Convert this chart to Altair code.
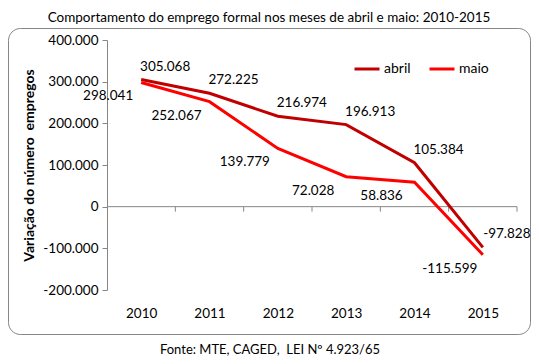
import altair as alt
import pandas as pd

years = ["2010", "2011", "2012", "2013", "2014", "2015"]
abril = [305068, 272225, 216974, 196913, 105384, -97828]
maio = [298041, 252067, 139779, 72028, 58836, -115599]
series = ["abril", "maio"]
colors = ["#C00000", "#FF0000"]
y_ticks = [-200000, -100000, 0, 100000, 200000, 300000, 400000]

title_text = "Comportamento do emprego formal nos meses de abril e maio: 2010-2015"
source_text = "Fonte: MTE, CAGED,\u00a0 LEI Nº 4.923/65"
y_title = "Variação do número\u00a0 empregos"

FONT = "Lato"
GRAY = "#868686"

rows = []
for i, (yr, a, m) in enumerate(zip(years, abril, maio)):
    rows.append({"pos": i + 0.5, "ano": yr, "serie": "abril", "valor": a})
    rows.append({"pos": i + 0.5, "ano": yr, "serie": "maio", "valor": m})
df = pd.DataFrame(rows)

n = len(years)
year_arr = "[" + ",".join("'%s'" % y for y in years) + "]"


def pt_fmt(field):
    return ("replace(replace(format(%s, ','), regexp(',', 'g'), '.'), '\u2212', '-')" % field)


x_scale = alt.Scale(domain=[0, n], nice=False, zero=False)
y_scale = alt.Scale(domain=[y_ticks[0], y_ticks[-1]], nice=False, zero=False)

base = alt.Chart(df)

lines = base.mark_line(strokeWidth=3).encode(
    x=alt.X("pos:Q", scale=x_scale,
            axis=alt.Axis(values=[i + 0.5 for i in range(n)],
                          labelExpr=year_arr + "[floor(datum.value)]",
                          ticks=False, domain=False, grid=False, title=None,
                          labelPadding=16, labelFontSize=13.5, labelFont=FONT,
                          labelColor="#000000")),
    y=alt.Y("valor:Q", scale=y_scale,
            axis=alt.Axis(values=y_ticks, labelExpr=pt_fmt("datum.value"), grid=False,
                          domainColor=GRAY, tickColor=GRAY, tickSize=5,
                          labelFontSize=13.5, labelFont=FONT, labelColor="#000000",
                          labelPadding=4,
                          title=y_title, titleFont=FONT, titleFontSize=14,
                          titleFontWeight="bold", titleColor="#000000",
                          titlePadding=6)),
    color=alt.Color("serie:N", scale=alt.Scale(domain=series, range=colors),
                    legend=alt.Legend(title=None, orient="none", legendX=246, legendY=15,
                                      direction="horizontal", symbolType="stroke",
                                      symbolStrokeWidth=3, symbolSize=625,
                                      labelFontSize=14, labelFont=FONT,
                                      labelColor="#000000", labelOffset=3,
                                      columnPadding=12)),
)

labels_abril = base.transform_filter(alt.datum.serie == "abril").transform_calculate(
    lab=pt_fmt("datum.valor")
).mark_text(dx=24, dy=-13, fontSize=13.5, font=FONT, color="#000000").encode(
    x=alt.X("pos:Q", scale=x_scale), y=alt.Y("valor:Q", scale=y_scale), text="lab:N")

labels_maio = base.transform_filter(alt.datum.serie == "maio").transform_calculate(
    lab=pt_fmt("datum.valor")
).mark_text(dx=-33, dy=14, fontSize=13.5, font=FONT, color="#000000").encode(
    x=alt.X("pos:Q", scale=x_scale), y=alt.Y("valor:Q", scale=y_scale), text="lab:N")

zero_line = alt.Chart(pd.DataFrame({"a": [0]})).mark_rule(color=GRAY, strokeWidth=1).encode(
    x=alt.datum(0, scale=x_scale), x2=alt.datum(n), y=alt.datum(0))

tick_df = pd.DataFrame({"b": list(range(1, n + 1))})
ticks = alt.Chart(tick_df).mark_rule(color=GRAY, strokeWidth=1, y2Offset=5).encode(
    x=alt.X("b:Q", scale=x_scale), y=alt.datum(0), y2=alt.datum(0))

border = alt.Chart(pd.DataFrame({"a": [0]})).mark_rect(
    fill="transparent", stroke=GRAY, strokeWidth=1, cornerRadius=12
).encode(x=alt.value(-98.5), x2=alt.value(423.5), y=alt.value(-11.5), y2=alt.value(294.5))

source = alt.Chart(pd.DataFrame({"t": [source_text]})).mark_text(
    fontSize=13, font=FONT, color="#000000", baseline="middle", align="center"
).encode(x=alt.value(163), y=alt.value(310), text="t:N")

chart = alt.layer(border, zero_line, ticks, lines, labels_abril, labels_maio, source).properties(
    width=410, height=250,
    title=alt.TitleParams(title_text, fontSize=13.5, fontWeight="normal", font=FONT,
                          color="#000000", anchor="middle", dx=-43, offset=4),
    autosize=alt.AutoSizeParams(type="none"),
    padding={"left": 99, "top": 32, "right": 14, "bottom": 66},
).configure_view(stroke=None)

chart.save("out.html", embed_options={"renderer": "svg", "actions": False})
